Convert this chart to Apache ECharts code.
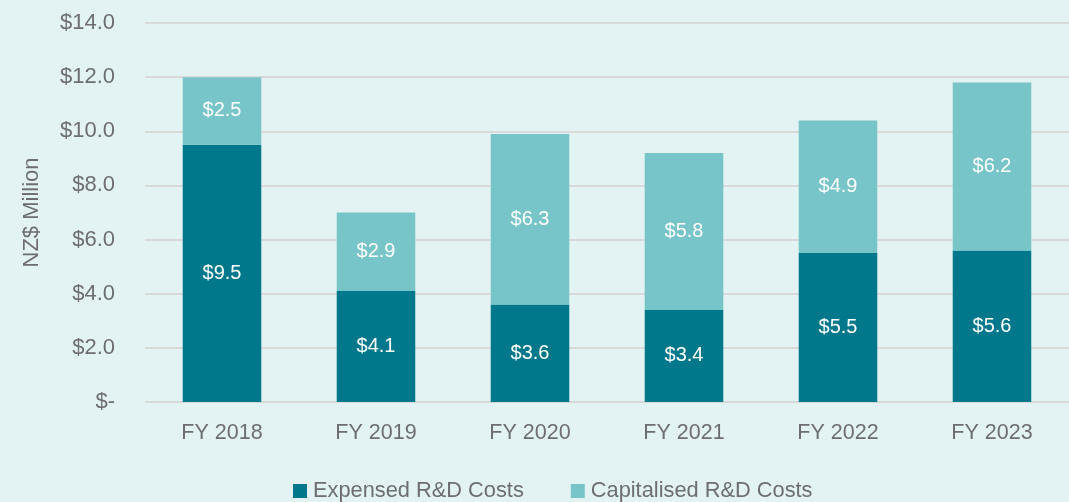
<!DOCTYPE html>
<html><head><meta charset="utf-8">
<script src="https://cdn.jsdelivr.net/npm/echarts@6/dist/echarts.min.js"></script>
<style>html,body{margin:0;padding:0;background:#e3f3f3}#c{width:1069px;height:502px}</style>
</head><body><div id="c"></div>
<script>
const categories = ['FY 2018','FY 2019','FY 2020','FY 2021','FY 2022','FY 2023'];
const expensed = [9.5, 4.1, 3.6, 3.4, 5.5, 5.6];
const capitalised = [2.5, 2.9, 6.3, 5.8, 4.9, 6.2];
const seriesNames = ['Expensed R&D Costs','Capitalised R&D Costs'];
const yAxisTitle = 'NZ$ Million';
const FONT = '"Liberation Sans Narrow","Arial Narrow","Liberation Sans",Arial,sans-serif';
const TXT = '#6d6e71';
const chart = echarts.init(document.getElementById('c'));
const lbl = {show:true, position:'inside', color:'#ffffff', fontSize:20, fontFamily:FONT, formatter:p=>'$'+p.value.toFixed(1)};
chart.setOption({
  backgroundColor:'#e3f3f3',
  animation:false,
  textStyle:{fontFamily:FONT},
  grid:{left:145,right:0,top:23,bottom:100,containLabel:false},
  legend:{top:475,left:288,itemWidth:14,itemHeight:14,itemGap:47,icon:'rect',
    textStyle:{color:TXT,fontSize:21.8,fontFamily:FONT,padding:[0,0,0,1]},data:seriesNames},
  xAxis:{type:'category',data:categories,
    axisLine:{show:false},axisTick:{show:false},
    axisLabel:{color:TXT,fontSize:21.5,fontFamily:FONT,margin:20}},
  yAxis:{type:'value',min:0,max:14,interval:2,
    name:yAxisTitle,nameLocation:'middle',nameGap:102,nameRotate:90,
    nameTextStyle:{color:TXT,fontSize:22,fontFamily:FONT},
    axisLine:{show:false},axisTick:{show:false},
    splitLine:{lineStyle:{color:'#d9d9d9',width:2}},
    axisLabel:{color:TXT,fontSize:22,fontFamily:FONT,margin:30,
      formatter:v=>v===0?'$-':'$'+v.toFixed(1)}},
  series:[
    {name:seriesNames[0],type:'bar',stack:'a',data:expensed,barWidth:'51%',
     itemStyle:{color:'#00788c'},label:lbl},
    {name:seriesNames[1],type:'bar',stack:'a',data:capitalised,barWidth:'51%',
     itemStyle:{color:'#77c5c8'},label:lbl}
  ]
});
</script></body></html>
